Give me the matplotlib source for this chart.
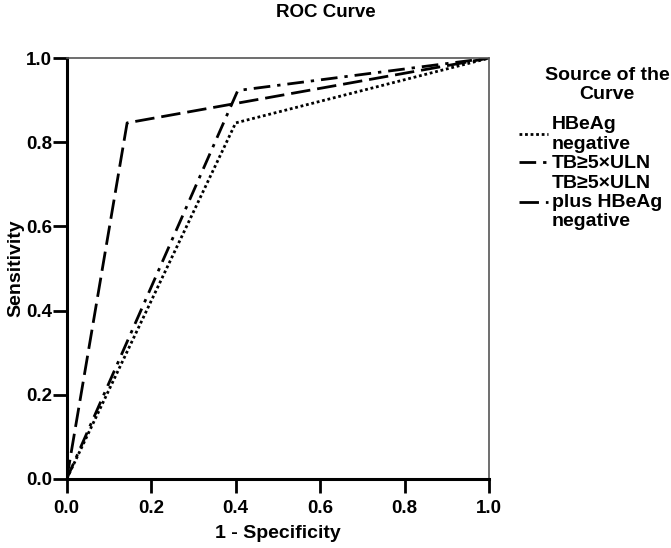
import matplotlib
matplotlib.use("Agg")
import matplotlib.pyplot as plt

plt.rcParams['font.family'] = ['Liberation Sans', 'DejaVu Sans']
plt.rcParams['font.weight'] = 'bold'

# Data
fpr_hbeag = [0.0, 0.40, 1.0]
tpr_hbeag = [0.0, 0.846, 1.0]
fpr_tb = [0.0, 0.405, 1.0]
tpr_tb = [0.0, 0.923, 1.0]
fpr_combo = [0.0, 0.143, 1.0]
tpr_combo = [0.0, 0.846, 1.0]
labels = ["HBeAg\nnegative", "TB≥5×ULN", "TB≥5×ULN\nplus HBeAg\nnegative"]
legend_title = "Source of the\nCurve"
ticks = [0.0, 0.2, 0.4, 0.6, 0.8, 1.0]

fig = plt.figure(figsize=(6.71, 5.48), dpi=100)
ax = fig.add_axes([0.0994, 0.126, 0.6296, 0.768])

lw = 2.0
l1, = ax.plot(fpr_hbeag, tpr_hbeag, color='black', lw=lw, dashes=(1.0, 1.0), label=labels[0])
l2, = ax.plot(fpr_tb, tpr_tb, color='black', lw=lw, dashes=(6, 2.5, 1.2, 2.5), label=labels[1])
l3, = ax.plot(fpr_combo, tpr_combo, color='black', lw=lw, dashes=(7, 2.5), label=labels[2])

ax.set_xlim(0, 1)
ax.set_ylim(0, 1)
ax.set_xticks(ticks)
ax.set_yticks(ticks)
ax.set_xticklabels([f"{t:.1f}" for t in ticks], fontsize=13.5, fontweight='bold')
ax.set_yticklabels([f"{t:.1f}" for t in ticks], fontsize=13.5, fontweight='bold')
ax.tick_params(axis='x', direction='out', length=10, width=2, pad=5)
ax.tick_params(axis='y', direction='out', length=10, width=2, pad=0.5)
for s in ['left', 'bottom']:
    ax.spines[s].set_linewidth(2.2)
    ax.spines[s].set_color('black')
for s in ['top', 'right']:
    ax.spines[s].set_linewidth(1.2)
    ax.spines[s].set_color('#555555')

ax.set_xlabel("1 - Specificity", fontsize=14, fontweight='bold', labelpad=6)
ax.set_ylabel("Sensitivity", fontsize=14, fontweight='bold', labelpad=1)
fig.text(0.485, 0.978, "ROC Curve", ha='center', va='center', fontsize=13.5, fontweight='bold')

fig.text(0.905, 0.845, legend_title, ha='center', va='center', fontsize=14,
         fontweight='bold', linespacing=1.15)

leg = fig.legend(handles=[l1, l2, l3], labels=labels, loc='upper left',
                 bbox_to_anchor=(0.7735, 0.788), frameon=False, fontsize=14,
                 handlelength=1.5, handletextpad=0.2, labelspacing=0.12, borderpad=0.0,
                 borderaxespad=0.0)
for t in leg.get_texts():
    t.set_linespacing(1.18)

fig.savefig("out.png", dpi=100)
